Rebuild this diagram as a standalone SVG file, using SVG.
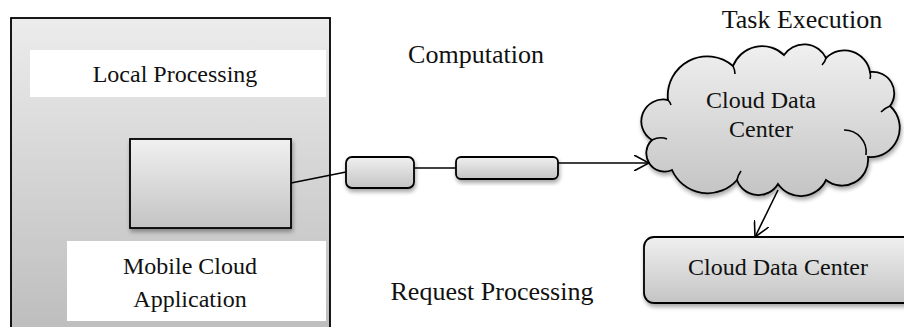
<svg xmlns="http://www.w3.org/2000/svg" width="904" height="327" viewBox="0 0 904 327">
  <style>
    .lbl { font-family: "Liberation Serif", "Times New Roman", serif; fill: #111; }
    .node { font-size: 24px; }
    .cap { font-size: 26px; }
    .edge { stroke: #000; stroke-width: 1.6; fill: none; }
    .shape { stroke: #000; stroke-width: 1.8; }
  </style>
  <defs>
    <linearGradient id="gOuter" gradientUnits="userSpaceOnUse" x1="0" y1="18" x2="0" y2="340">
      <stop offset="0" stop-color="#ececec"/>
      <stop offset="1" stop-color="#bcbcbc"/>
    </linearGradient>
    <linearGradient id="gBox" x1="0" y1="0" x2="0" y2="1">
      <stop offset="0" stop-color="#f0f0f0"/>
      <stop offset="1" stop-color="#c4c4c4"/>
    </linearGradient>
    <filter id="shadow" x="-10%" y="-10%" width="130%" height="140%">
      <feGaussianBlur in="SourceAlpha" stdDeviation="2"/>
      <feOffset dx="1" dy="3" result="b"/>
      <feComponentTransfer><feFuncA type="linear" slope="0.35"/></feComponentTransfer>
      <feMerge><feMergeNode/><feMergeNode in="SourceGraphic"/></feMerge>
    </filter>
    <marker id="openArrow" viewBox="0 0 16 16" refX="15" refY="8" markerWidth="16" markerHeight="16" markerUnits="userSpaceOnUse" orient="auto">
      <path d="M0,0 L15,8 L0,16" fill="none" stroke="#000" stroke-width="1.6"/>
    </marker>
  </defs>

  <rect width="904" height="327" fill="#fff"/>

  <!-- mobile device container -->
  <g id="mobile">
    <rect class="shape" x="11" y="18" width="319" height="330" fill="url(#gOuter)" stroke-width="1.5"/>
    <rect x="30" y="50" width="296" height="47" fill="#fff"/>
    <text class="lbl node" x="175" y="82" text-anchor="middle">Local Processing</text>
    <rect x="67" y="241" width="259" height="80" fill="#fff"/>
    <text class="lbl node" x="190" y="274" text-anchor="middle">Mobile Cloud</text>
    <text class="lbl node" x="190" y="307" text-anchor="middle">Application</text>
  </g>

  <g id="app-module">
    <rect class="shape" x="130" y="139" width="161" height="89" fill="url(#gBox)" filter="url(#shadow)"/>
  </g>

  <g id="link-1">
    <rect class="shape" x="346" y="157" width="68" height="31" rx="6" fill="url(#gBox)" filter="url(#shadow)"/>
  </g>

  <g id="link-2">
    <rect class="shape" x="456" y="157" width="102" height="22" rx="5" fill="url(#gBox)" filter="url(#shadow)"/>
  </g>

  <g id="cloud">
    <path class="shape" fill="url(#gBox)" filter="url(#shadow)"
      d="M668,100 A39.4,39.4 0 0 1 733,66 A31.3,31.3 0 0 1 784,55 A24.4,24.4 0 0 1 826,58 A26,26 0 0 1 870,72 A21.4,21.4 0 0 1 890,106 A29.3,29.3 0 0 1 868,157 A26,26 0 0 1 826,180 A27.7,27.7 0 0 1 778,184 A22.8,22.8 0 0 1 737,180 A39,39 0 0 1 672,170 A18.3,18.3 0 0 1 652,140 A21.8,21.8 0 0 1 668,100 Z"/>
    <g class="edge" stroke-width="1.5">
      <path d="M668,100 Q670,102 671,105"/>
      <path d="M733,66 Q735,70 735,74"/>
      <path d="M826,58 Q825,62 822,65"/>
      <path d="M870,72 Q871,76 870,79"/>
      <path d="M890,106 Q885,108 881,112"/>
      <path d="M844,130 A22,22 0 0 1 866,155"/>
      <path d="M737,180 Q738,175 741,171"/>
      <path d="M652,140 Q660,136 667,139"/>
    </g>
    <text class="lbl node" x="761" y="108" text-anchor="middle">Cloud Data</text>
    <text class="lbl node" x="761" y="137" text-anchor="middle">Center</text>
  </g>

  <g id="data-center">
    <rect class="shape" x="644" y="237" width="275" height="66" rx="10" fill="url(#gBox)" filter="url(#shadow)"/>
    <text class="lbl node" x="778" y="275" text-anchor="middle">Cloud Data Center</text>
  </g>

  <!-- free labels -->
  <text class="lbl cap" x="476" y="63" text-anchor="middle">Computation</text>
  <text class="lbl cap" x="492" y="300" text-anchor="middle">Request Processing</text>
  <text class="lbl cap" x="802" y="28" text-anchor="middle">Task Execution</text>

  <g id="connectors">
    <line class="edge" x1="291" y1="183" x2="346" y2="172"/>
    <line class="edge" x1="414" y1="168" x2="456" y2="168"/>
    <line class="edge" x1="558" y1="163" x2="649" y2="163" marker-end="url(#openArrow)"/>
    <line class="edge" x1="778" y1="190" x2="755" y2="237" marker-end="url(#openArrow)"/>
  </g>
</svg>
